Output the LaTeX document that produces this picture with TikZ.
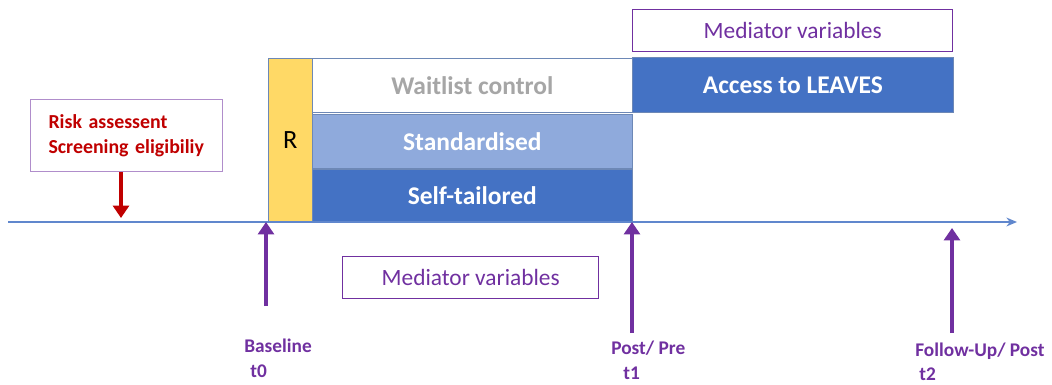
\documentclass[tikz,border=0pt]{standalone}
\usepackage{fontspec}
\setmainfont{Carlito}
\usetikzlibrary{positioning, arrows.meta}
\definecolor{armblue}{HTML}{4472C4}
\definecolor{armlight}{HTML}{8FAADC}
\definecolor{randyellow}{HTML}{FFD966}
\definecolor{medpurple}{HTML}{7030A0}
\definecolor{riskred}{HTML}{C00000}
\definecolor{waitgray}{HTML}{A6A6A6}
\definecolor{edgeblue}{HTML}{2F5597}

\begin{document}
\begin{tikzpicture}[
  x=0.02cm, y=-0.02cm,
  arm/.style={rectangle, draw=edgeblue!70, line width=0.4pt, anchor=north west, inner sep=0pt,
    minimum width=6.4cm, minimum height=1.08cm, text=white, font=\fontsize{14.5}{17}\selectfont\bfseries},
  medbox/.style={rectangle, draw=medpurple, line width=0.8pt, anchor=north west, inner sep=0pt,
    minimum height=0.84cm, text=medpurple, font=\fontsize{13.3}{16}\selectfont},
  tlabel/.style={anchor=north west, inner sep=0pt, text=medpurple, font=\fontsize{11}{13}\selectfont\bfseries},
  parr/.style={-{Triangle[width=9pt, length=7pt]}, line width=2.8pt, medpurple},
  axis/.style={-{Stealth[length=6pt, width=5pt]}, line width=1.1pt, armblue!85}
]
\useasboundingbox (0,0) rectangle (1052,385);

% study arms
\node[arm, fill=white, text=waitgray] (wait) at (312,58) {Waitlist control};
\node[arm, fill=armlight] (std) at (312,114) {Standardised};
\node[arm, fill=armblue, minimum height=1.06cm] (self) at (312,169) {Self-tailored};
\node[arm, fill=randyellow, minimum width=0.88cm, minimum height=3.28cm, text=black,
  font=\fontsize{15}{18}\selectfont] (rand) at (268,58) {R};
\node[arm, fill=armblue, minimum width=6.42cm, minimum height=1.1cm] (leaves) at (632,57) {Access to LEAVES};

% mediators
\node[medbox, minimum width=6.4cm] (medtop) at (632,9) {Mediator variables};
\node[medbox, minimum width=5.12cm] (medbot) at (342,256) {Mediator variables};

% screening
\node[rectangle, draw=medpurple!55, line width=0.6pt, anchor=north west, minimum width=3.84cm,
  minimum height=1.44cm, align=left, text=riskred, font=\fontsize{11.3}{14}\selectfont\bfseries,
  text width=3.12cm, inner xsep=0.36cm] (risk) at (30,99) {Risk assessent\\Screening eligibiliy};

% timeline
\coordinate (start) at (8,222);
\coordinate (stop) at (1017,222);
\draw[axis] (start) -- (stop);
\coordinate (scr) at (121,218);
\draw[-{Triangle[width=9pt, length=7pt]}, line width=2.4pt, riskred] (risk.south -| scr) -- (scr);

% time points
\node[tlabel] (base) at (244,339) {Baseline};
\node[tlabel] (tzero) at (250,364) {t0};
\node[tlabel] (post) at (611,341) {Post/ Pre};
\node[tlabel] (tone) at (623,367) {t1};
\node[tlabel] (follow) at (915,343) {Follow-Up/ Post};
\node[tlabel] (ttwo) at (919,367) {t2};
\coordinate (p0) at (266,306);
\coordinate (p1) at (632,333);
\coordinate (p2) at (952,333);
\draw[parr] (p0) -- (p0 |- start);
\draw[parr] (p1) -- (p1 |- start);
\draw[parr] (p2) -- ([yshift=-0.12cm]p2 |- start);
\end{tikzpicture}
\end{document}
